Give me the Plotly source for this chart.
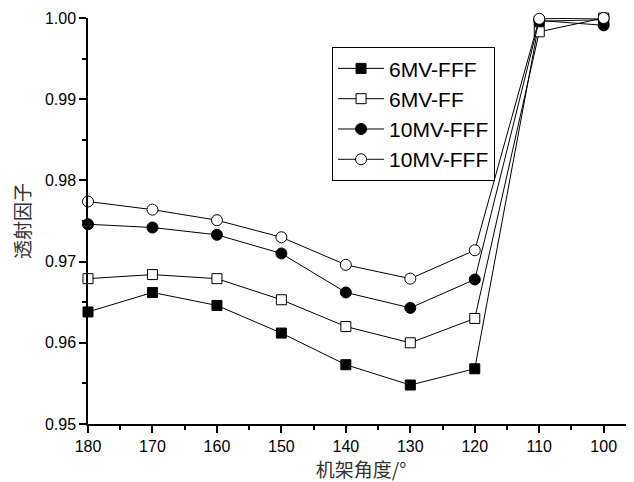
import plotly.graph_objects as go

angles = [180, 170, 160, 150, 140, 130, 120, 110, 100]
s6fff = [0.9638, 0.9662, 0.9646, 0.9612, 0.9573, 0.9548, 0.9568, 0.9996, 0.9998]
s6ff = [0.9679, 0.9684, 0.9679, 0.9653, 0.9620, 0.9600, 0.9630, 0.9983, 1.0000]
s10fff = [0.9746, 0.9742, 0.9733, 0.9710, 0.9662, 0.9643, 0.9678, 0.9997, 0.9991]
s10fff_b = [0.9774, 0.9764, 0.9751, 0.9730, 0.9696, 0.9679, 0.9714, 0.9999, 1.0000]
names = ["6MV-FFF", "6MV-FF", "10MV-FFF", "10MV-FFF"]
y_ticks = [0.95, 0.96, 0.97, 0.98, 0.99, 1.00]
x_ticks = [180, 170, 160, 150, 140, 130, 120, 110, 100]

series = [s6fff, s6ff, s10fff, s10fff_b]
symbols = ["square", "square-open", "circle", "circle-open"]

fig = go.Figure()
for vals, nm, sym in zip(series, names, symbols):
    filled = not sym.endswith("open")
    fig.add_trace(go.Scatter(
        x=angles, y=vals, name=nm, mode="lines+markers",
        line=dict(color="black", width=1),
        marker=dict(symbol="square" if "square" in sym else "circle",
                    size=10 if "square" in sym else 11,
                    color="black" if filled else "white",
                    line=dict(color="black", width=1)),
        cliponaxis=False,
    ))

# page body has an 8px margin, so the figure is sized to fill the rest
fig.update_layout(
    width=626, height=474,
    margin=dict(l=80, r=0, t=10, b=58, autoexpand=False),
    plot_bgcolor="white", paper_bgcolor="white",
    font=dict(family="Arial, Liberation Sans", size=16, color="black"),
    showlegend=True,
    legend=dict(x=0.447, y=0.928, xanchor="left", yanchor="top",
                bordercolor="black", borderwidth=1, bgcolor="white",
                font=dict(size=21, family="Arial, Liberation Sans"),
                itemwidth=46, tracegroupgap=0),
)
fig.update_xaxes(
    range=[180, 95.3], tickvals=x_ticks, ticktext=[str(v) for v in x_ticks],
    showline=True, linecolor="black", linewidth=1.5, ticks="outside",
    ticklen=7, tickwidth=1.5, tickcolor="black", showgrid=False, zeroline=False,
    minor=dict(dtick=5, tick0=100, ticks="outside", ticklen=4, tickwidth=1.5, tickcolor="black"),
    title=dict(text="机架角度/°", font=dict(family="Noto Sans CJK SC", size=19, color="#333333"), standoff=6),
    tickfont=dict(size=16), automargin=False,
)
fig.update_yaxes(
    range=[0.95, 1.0], tickvals=y_ticks, ticktext=["%.2f" % v for v in y_ticks],
    showline=True, linecolor="black", linewidth=1.5, ticks="outside",
    ticklen=7, tickwidth=1.5, tickcolor="black", showgrid=False, zeroline=False,
    minor=dict(dtick=0.005, tick0=0.95, ticks="outside", ticklen=4, tickwidth=1.5, tickcolor="black"),
    title=dict(text="透射因子", font=dict(family="Noto Sans CJK SC", size=19, color="#333333"), standoff=10),
    tickfont=dict(size=16), automargin=False,
)
fig.write_html("out.html")
